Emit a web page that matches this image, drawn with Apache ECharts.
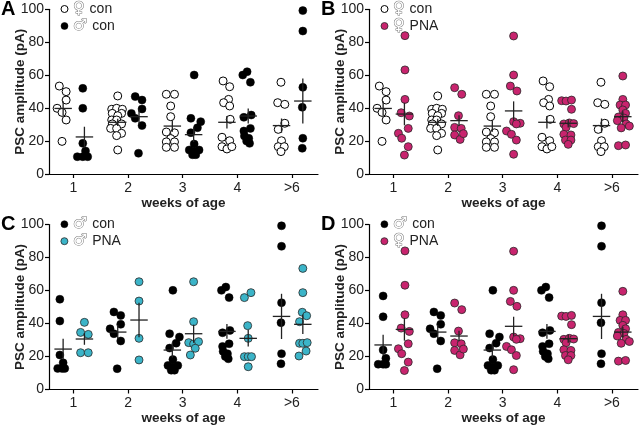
<!DOCTYPE html>
<html>
<head>
<meta charset="utf-8">
<title>PSC amplitude by weeks of age</title>
<script src="https://cdn.jsdelivr.net/npm/echarts@6/dist/echarts.min.js"></script>
<style>
    html, body { margin: 0; padding: 0; background: #fff; }
    #main { width: 640px; height: 427px; }
</style>
</head>
<body>
<div id="main"></div>
<script>
// x tick labels
let weekLabels = ['1', '2', '3', '4', '>6'];

// points: [week, jitter, amplitude pA]
let femConPoints = [
    [1, -0.07, 53.4], [1, 0.055, 50], [1, 0.055, 44.9], [1, -0.11, 39.9], [1, -0.02, 37.4], [1, 0.055, 32.8], [1, -0.02, 19.8],
    [2, 0, 47.4], [2, -0.11, 39.3], [2, -0.02, 39.9], [2, 0.085, 39.3], [2, -0.1, 36.8], [2, 0.07, 36.8], [2, 0, 35.4], [2, -0.11, 32.8],
    [2, -0.02, 32.8], [2, -0.1, 30.4], [2, 0.07, 30.4], [2, -0.13, 27.7], [2, -0.02, 27.7], [2, 0.07, 24.7], [2, -0.02, 23.3], [2, 0, 14.6],
    [3, -0.11, 48.4], [3, 0.04, 48.4], [3, -0.03, 41.3], [3, -0.03, 34.8], [3, -0.11, 25.5], [3, 0.04, 25], [3, -0.03, 21.5],
    [3, -0.11, 19.5], [3, 0.04, 19.5], [3, -0.11, 16.2], [3, 0.04, 16.2],
    [4, -0.07, 56.5], [4, 0.05, 53], [4, 0.03, 45.3], [4, -0.06, 43.3], [4, 0.05, 41.3], [4, 0.06, 33.2], [4, -0.09, 22.3],
    [4, 0.05, 20.2], [4, -0.09, 16.6], [4, 0, 15.2], [4, 0.09, 16.6],
    [5, -0.01, 55.7], [5, -0.07, 43.3], [5, 0.06, 42.3], [5, 0.06, 30.8], [5, -0.06, 27.1], [5, 0, 20.2], [5, -0.06, 16.6],
    [5, 0.05, 16.6], [5, -0.01, 13.6]
];
let femConMean = [39.8, 31.4, 29.1, 31.4, 29.4];
let femConSem = [4.3, 2.2, 3.5, 3.8, 4.3];

// male con, week 1 is drawn a little differently in A, C and D
let maleConW1A = [[1, -0.03, 52], [1, -0.03, 39.9], [1, -0.03, 18.6], [1, 0.02, 14], [1, -0.13, 10.5], [1, -0.03, 10.5], [1, 0.06, 10.5]];
let maleConW1C = [[1, -0.06, 54.7], [1, -0.06, 41.5], [1, -0.06, 20.9], [1, 0, 16.2], [1, -0.1, 12.8], [1, -0.02, 12.8], [1, 0.03, 12.8]];
let maleConW1D = [[1, 0, 56.7], [1, 0, 44.1], [1, 0, 24], [1, 0.05, 18.9], [1, -0.09, 15.3], [1, 0, 15.3], [1, 0.05, 15.3]];
let maleConRest = [
    [2, -0.07, 47], [2, 0.055, 44.9], [2, 0.055, 39.5], [2, -0.14, 36.8], [2, -0.07, 33.8], [2, 0.055, 29.4], [2, -0.01, 12.6],
    [3, 0.01, 60.1], [3, -0.05, 33.8], [3, 0.13, 31.8], [3, 0.07, 28.1], [3, -0.05, 25.1], [3, 0.01, 18.2], [3, -0.08, 14.6],
    [3, 0.01, 13.6], [3, 0.1, 14.6], [3, -0.02, 11.7], [3, 0.04, 11.7],
    [4, -0.1, 60.1], [4, -0.02, 62.1], [4, 0.04, 55.7], [4, 0.055, 35.8], [4, -0.08, 34.4], [4, 0.04, 27.7], [4, -0.08, 26.1],
    [4, -0.07, 23.1], [4, 0.01, 21.7], [4, 0.025, 18.6], [4, -0.03, 20],
    [5, 0, 99.2], [5, 0, 86.8], [5, 0, 52.6], [5, -0.01, 40.5], [5, 0, 21.7], [5, -0.01, 15.6]
];
let maleConMeanA = [22.5, 34.8, 23.9, 35.2, 44.3];
let maleConMeanC = [24.5, 34.8, 23.9, 35.2, 44.3];
let maleConMeanD = [27, 34.8, 23.9, 35.2, 44.3];
let maleConSem = [6.2, 4.3, 4.5, 4.5, 13.7];

let femPnaPoints = [
    [1, 0.01, 84], [1, 0.01, 63.2], [1, 0.01, 45.3], [1, -0.06, 37.2], [1, 0.09, 35.2], [1, 0.07, 27.7], [1, -0.11, 24.7],
    [1, -0.05, 21.7], [1, 0.07, 16.6], [1, 0, 11.5],
    [2, -0.08, 52.4], [2, 0.05, 48.4], [2, -0.01, 35.4], [2, -0.08, 28.3], [2, 0.04, 27.7], [2, -0.08, 23.7], [2, 0.02, 21], [2, 0.08, 24.5],
    [3, 0, 83.8], [3, 0, 60.1], [3, -0.06, 53.4], [3, 0.06, 50.4], [3, 0, 31.8], [3, 0.12, 30.8], [3, 0.05, 30.4], [3, -0.13, 26.1],
    [3, -0.04, 24.1], [3, 0.05, 20.6], [3, 0, 12],
    [4, -0.12, 44.5], [4, -0.04, 44.3], [4, 0.06, 44.9], [4, 0.06, 39.3], [4, -0.08, 30.4], [4, 0.02, 31], [4, 0.1, 30.6],
    [4, -0.04, 28.3], [4, -0.08, 24.1], [4, 0.05, 23.7], [4, -0.05, 20.6], [4, 0.05, 20.6], [4, 0, 18],
    [5, 0, 59.5], [5, 0, 45.3], [5, -0.05, 41.9], [5, 0.05, 41.9], [5, 0, 38.9], [5, 0.05, 36.8], [5, -0.08, 34.6], [5, 0.02, 34],
    [5, -0.1, 32.4], [5, 0.06, 30.4], [5, 0.12, 29.1], [5, -0.03, 28], [5, -0.08, 17.2], [5, 0.05, 17.6]
];
let femPnaMean = [36.4, 32.4, 38.3, 30.8, 34.8];
let femPnaSem = [6.8, 3.2, 5.8, 2.5, 3.3];

let malePnaPoints = [
    [1, 0, 40.7], [1, -0.07, 34.6], [1, 0.07, 33.4], [1, -0.07, 22.3], [1, 0.07, 22.3],
    [2, 0, 65.3], [2, 0, 53.6], [2, 0, 31], [2, 0, 17.9],
    [3, 0, 65.3], [3, 0, 41.1], [3, -0.09, 28.4], [3, 0, 27.6], [3, 0.09, 29], [3, 0.03, 25], [3, -0.06, 20.9],
    [4, -0.07, 55.7], [4, 0.05, 58.7], [4, -0.01, 38.7], [4, 0, 31], [4, -0.07, 19.9], [4, 0, 19.9], [4, 0.06, 19.9], [4, 0, 13.8],
    [5, 0, 73.4], [5, 0, 58.7], [5, -0.01, 46.8], [5, 0.07, 44.7], [5, -0.06, 41.1], [5, -0.06, 28], [5, 0, 28], [5, 0.08, 28.4],
    [5, -0.07, 20.3], [5, 0.06, 23.3]
];
let malePnaMean = [30.6, 42.1, 33.8, 31, 39.5];
let malePnaSem = [3.5, 10.5, 5.5, 5, 5.9];

const LEFT = -0.19, RIGHT = 0.2, BAR_HALF = 0.16;
const FONT = "'Liberation Sans', Arial, sans-serif";

let styles = {
    open: {color: '#fff', borderColor: '#000', borderWidth: 1, opacity: 1},
    black: {color: '#000', borderColor: '#000', borderWidth: 0.5, opacity: 1},
    magenta: {color: '#c8246e', borderColor: '#2a2a2a', borderWidth: 0.8, opacity: 1},
    cyan: {color: '#3bb4c8', borderColor: '#2a2a2a', borderWidth: 0.8, opacity: 1}
};

let panels = [
    {letter: 'A', left: 49, top: 9.3, height: 164.7, groups: [
        {name: '♀ con', pts: femConPoints, style: 'open', side: LEFT, mean: femConMean, sem: femConSem},
        {name: '♂ con', pts: maleConW1A.concat(maleConRest), style: 'black', side: RIGHT, mean: maleConMeanA, sem: maleConSem}
    ]},
    {letter: 'B', left: 369, top: 9.3, height: 164.7, groups: [
        {name: '♀ con', pts: femConPoints, style: 'open', side: LEFT, mean: femConMean, sem: femConSem},
        {name: '♀ PNA', pts: femPnaPoints, style: 'magenta', side: RIGHT, mean: femPnaMean, sem: femPnaSem}
    ]},
    {letter: 'C', left: 49, top: 224.5, height: 165, groups: [
        {name: '♂ con', pts: maleConW1C.concat(maleConRest), style: 'black', side: LEFT, mean: maleConMeanC, sem: maleConSem},
        {name: '♂ PNA', pts: malePnaPoints, style: 'cyan', side: RIGHT, mean: malePnaMean, sem: malePnaSem}
    ]},
    {letter: 'D', left: 369, top: 224.5, height: 165, groups: [
        {name: '♂ con', pts: maleConW1D.concat(maleConRest), style: 'black', side: LEFT, mean: maleConMeanD, sem: maleConSem},
        {name: '♀ PNA', pts: femPnaPoints, style: 'magenta', side: RIGHT, mean: femPnaMean, sem: femPnaSem}
    ]}
];

function renderMeanSem(params, api) {
    let x = api.value(0), m = api.value(1), s = api.value(2);
    let a = api.coord([x - BAR_HALF, m]);
    let b = api.coord([x + BAR_HALF, m]);
    let top = api.coord([x, m + s]);
    let bottom = api.coord([x, m - s]);
    let lineStyle = {stroke: '#222', lineWidth: 1.3};
    return {
        type: 'group',
        children: [
            {type: 'line', shape: {x1: a[0], y1: a[1], x2: b[0], y2: b[1]}, style: lineStyle},
            {type: 'line', shape: {x1: top[0], y1: top[1], x2: bottom[0], y2: bottom[1]}, style: lineStyle}
        ]
    };
}

let myChart = echarts.init(document.getElementById('main'));

let option = {
    animation: false,
    backgroundColor: '#fff',
    textStyle: {fontFamily: FONT},
    title: [],
    legend: [],
    grid: [],
    xAxis: [],
    yAxis: [],
    series: []
};

panels.forEach(function (p, i) {
    option.title.push({
        text: p.letter, left: p.left - 48, top: p.top - 10, padding: 0,
        textStyle: {fontSize: 20, fontWeight: 'bold', color: '#000', fontFamily: FONT}
    });
    option.grid.push({left: p.left, top: p.top, width: 269, height: p.height, containLabel: false});
    option.xAxis.push({
        type: 'value', gridIndex: i, min: 0.5513, max: 5.478,
        name: 'weeks of age', nameLocation: 'middle', nameGap: 22,
        nameTextStyle: {fontSize: 13.5, fontWeight: 'bold', color: '#222', fontFamily: FONT},
        axisLine: {show: true, lineStyle: {color: '#000', width: 1.2}},
        axisTick: {show: true, length: 4, customValues: [1, 2, 3, 4, 5], lineStyle: {color: '#000', width: 1.2}},
        axisLabel: {
            customValues: [1, 2, 3, 4, 5], margin: 7, fontSize: 14, color: '#222', fontFamily: FONT,
            formatter: function (v) { return weekLabels[Math.round(v) - 1]; }
        },
        splitLine: {show: false}
    });
    option.yAxis.push({
        type: 'value', gridIndex: i, min: 0, max: 100, interval: 20,
        name: 'PSC amplitude (pA)', nameLocation: 'middle', nameGap: 22, nameMoveOverlap: false,
        nameTextStyle: {fontSize: 13.5, fontWeight: 'bold', color: '#222', fontFamily: FONT},
        axisLine: {show: true, lineStyle: {color: '#000', width: 1.2}},
        axisTick: {show: true, length: 4, lineStyle: {color: '#000', width: 1.2}},
        axisLabel: {margin: 5, fontSize: 14, color: '#222', fontFamily: FONT},
        splitLine: {show: false}
    });
    // legend rows sit at about 8 and 22 px below the panel top
    option.legend.push({
        orient: 'vertical', left: p.left + 6.5, top: p.top - 13.8,
        itemWidth: 7, itemHeight: 7, itemGap: 0, icon: 'circle',
        selectedMode: false,
        data: p.groups.map(function (g) {
            return {name: g.name, itemStyle: styles[g.style]};
        }),
        formatter: function (name) {
            return '{g|' + name.charAt(0) + '}{t|' + name.slice(1) + '}';
        },
        textStyle: {
            fontSize: 14, lineHeight: 14, color: '#222', fontFamily: FONT,
            rich: {
                g: {fontFamily: 'DejaVu Sans', fontSize: 16, lineHeight: 14, color: '#fff',
                    textBorderColor: '#777', textBorderWidth: 1, padding: [0, 1, 0, 0]},
                t: {fontSize: 14, lineHeight: 14, color: '#222', fontFamily: FONT}
            }
        }
    });
    p.groups.forEach(function (g) {
        option.series.push({
            name: g.name, type: 'scatter', xAxisIndex: i, yAxisIndex: i,
            symbol: 'circle', symbolSize: 8,
            itemStyle: styles[g.style],
            data: g.pts.map(function (d) { return [d[0] + g.side + d[1], d[2]]; })
        });
    });
    p.groups.forEach(function (g) {
        option.series.push({
            type: 'custom', xAxisIndex: i, yAxisIndex: i, z: 5,
            renderItem: renderMeanSem,
            data: g.mean.map(function (m, k) { return [k + 1 + g.side, m, g.sem[k]]; })
        });
    });
});

myChart.setOption(option);
</script>
</body>
</html>
